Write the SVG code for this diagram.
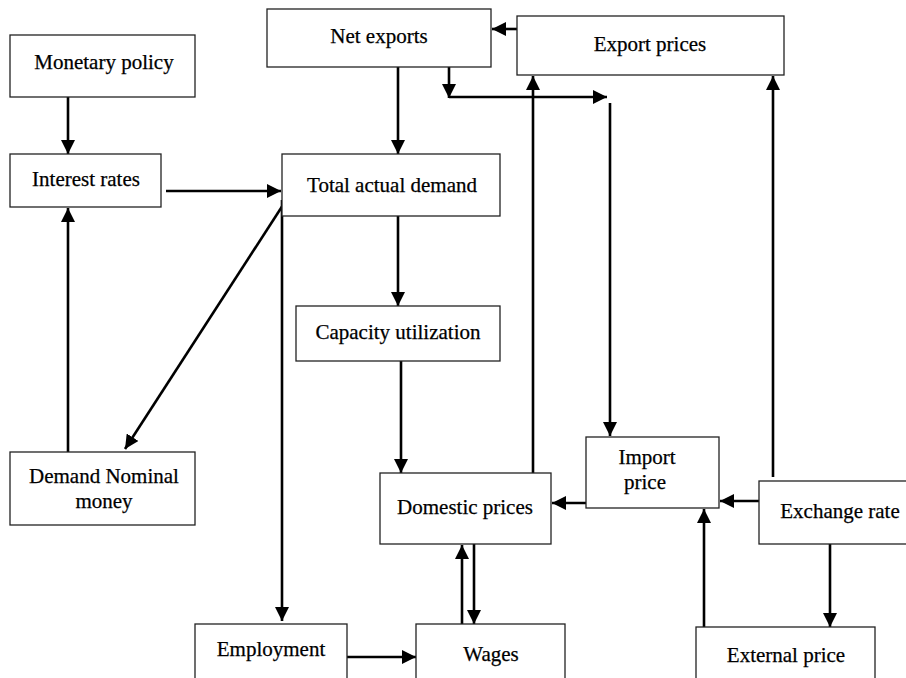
<svg xmlns="http://www.w3.org/2000/svg" width="906" height="678" viewBox="0 0 906 678">
<style>
.box{fill:#fff;stroke:#222;stroke-width:1.3}
.t{font-family:"Liberation Serif","Times New Roman",serif;font-size:21px;fill:#000;text-anchor:middle;stroke:#000;stroke-width:0.25}
.c{fill:none;stroke:#000;stroke-width:2.6}
</style>
<defs>
<marker id="ah" markerUnits="userSpaceOnUse" markerWidth="14" markerHeight="14" viewBox="0 0 12 12" refX="12" refY="6" orient="auto">
<path d="M0,0 L12,6 L0,12 Z" fill="#000"/>
</marker>
</defs>
<rect width="906" height="678" fill="#fff"/>
<g id="connectors">
<line class="c" x1="68" y1="97" x2="68" y2="154" marker-end="url(#ah)"/>
<line class="c" x1="166" y1="191" x2="281" y2="191" marker-end="url(#ah)"/>
<line class="c" x1="517" y1="29" x2="492" y2="29" marker-end="url(#ah)"/>
<line class="c" x1="398" y1="67" x2="398" y2="154" marker-end="url(#ah)"/>
<line class="c" x1="449" y1="67" x2="449" y2="98" marker-end="url(#ah)"/>
<line class="c" x1="449" y1="97" x2="607" y2="97" marker-end="url(#ah)"/>
<line class="c" x1="610" y1="103" x2="610" y2="436" marker-end="url(#ah)"/>
<line class="c" x1="533" y1="473" x2="533" y2="76" marker-end="url(#ah)"/>
<line class="c" x1="773" y1="477" x2="773" y2="76" marker-end="url(#ah)"/>
<line class="c" x1="398" y1="216" x2="398" y2="306" marker-end="url(#ah)"/>
<line class="c" x1="401" y1="361" x2="401" y2="473" marker-end="url(#ah)"/>
<line class="c" x1="282" y1="200" x2="282" y2="621" marker-end="url(#ah)"/>
<line class="c" x1="283" y1="205" x2="125" y2="449" marker-end="url(#ah)"/>
<line class="c" x1="68" y1="452" x2="68" y2="208" marker-end="url(#ah)"/>
<line class="c" x1="586" y1="503" x2="552" y2="503" marker-end="url(#ah)"/>
<line class="c" x1="759" y1="501" x2="720" y2="501" marker-end="url(#ah)"/>
<line class="c" x1="830" y1="544" x2="830" y2="627" marker-end="url(#ah)"/>
<line class="c" x1="704" y1="627" x2="704" y2="509" marker-end="url(#ah)"/>
<line class="c" x1="462" y1="624" x2="462" y2="545" marker-end="url(#ah)"/>
<line class="c" x1="474" y1="544" x2="474" y2="624" marker-end="url(#ah)"/>
<line class="c" x1="347" y1="657" x2="416" y2="657" marker-end="url(#ah)"/>
</g>
<g id="monetary-policy"><rect class="box" x="10" y="35" width="185" height="62"/><text class="t" x="104" y="69">Monetary policy</text></g>
<g id="interest-rates"><rect class="box" x="10" y="154" width="151" height="53"/><text class="t" x="86" y="186">Interest rates</text></g>
<g id="net-exports"><rect class="box" x="267" y="9" width="224" height="58"/><text class="t" x="379" y="43">Net exports</text></g>
<g id="export-prices"><rect class="box" x="517" y="16" width="267" height="59"/><text class="t" x="650" y="51">Export prices</text></g>
<g id="total-actual-demand"><rect class="box" x="282" y="154" width="218" height="62"/><text class="t" x="392" y="192">Total actual demand</text></g>
<g id="capacity-utilization"><rect class="box" x="296" y="306" width="204" height="55"/><text class="t" x="398" y="339">Capacity utilization</text></g>
<g id="demand-nominal-money"><rect class="box" x="10" y="452" width="185" height="73"/><text class="t" x="104" y="483">Demand Nominal</text><text class="t" x="104" y="508">money</text></g>
<g id="domestic-prices"><rect class="box" x="380" y="473" width="171" height="71"/><text class="t" x="465" y="514">Domestic prices</text></g>
<g id="import-price"><rect class="box" x="586" y="437" width="133" height="71"/><text class="t" x="647" y="464">Import</text><text class="t" x="645" y="489">price</text></g>
<g id="exchange-rate"><rect class="box" x="759" y="481" width="152" height="63"/><text class="t" x="840" y="518">Exchange rate</text></g>
<g id="external-price"><rect class="box" x="696" y="627" width="179" height="60"/><text class="t" x="786" y="662">External price</text></g>
<g id="employment"><rect class="box" x="195" y="624" width="152" height="60"/><text class="t" x="271" y="656">Employment</text></g>
<g id="wages"><rect class="box" x="416" y="624" width="149" height="60"/><text class="t" x="491" y="661">Wages</text></g>
</svg>
